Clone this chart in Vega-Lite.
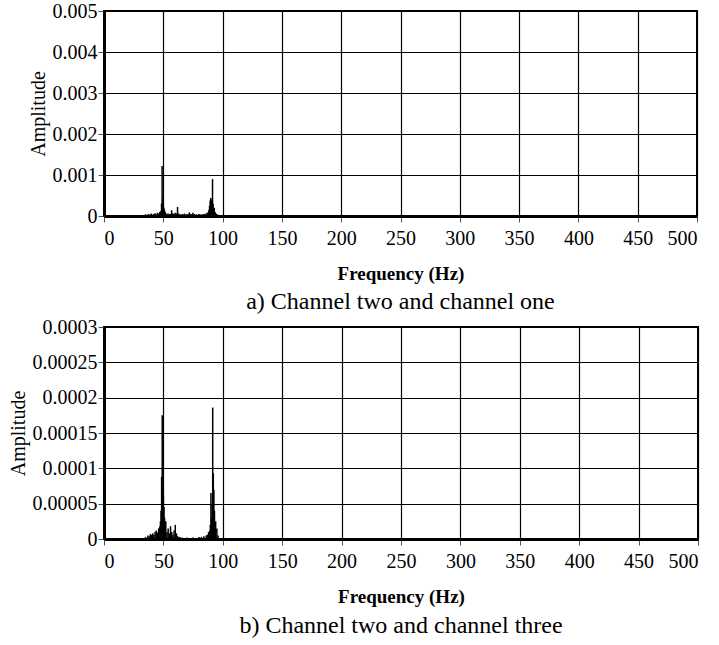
{
  "$schema": "https://vega.github.io/schema/vega-lite/v6.json",
  "padding": {"left": 7, "top": 0, "right": 10, "bottom": 0},
  "background": "white",
  "datasets": {
    "a": [
      {"f": 33, "amp": 0.00002}, {"f": 35, "amp": 0.00004}, {"f": 36, "amp": 0.00003}, {"f": 37.5, "amp": 0.00005},
      {"f": 39, "amp": 0.00004}, {"f": 40, "amp": 0.00006}, {"f": 41, "amp": 0.00003}, {"f": 42, "amp": 0.00005},
      {"f": 43, "amp": 0.00007}, {"f": 44, "amp": 0.00004}, {"f": 45, "amp": 0.00008}, {"f": 46, "amp": 0.00006},
      {"f": 47, "amp": 0.0001}, {"f": 47.5, "amp": 0.00008}, {"f": 48, "amp": 0.00012}, {"f": 48.5, "amp": 0.0003},
      {"f": 49, "amp": 0.00122}, {"f": 49.5, "amp": 0.00042}, {"f": 50, "amp": 0.00035}, {"f": 50.5, "amp": 0.0002},
      {"f": 51, "amp": 0.00015}, {"f": 51.5, "amp": 0.0001}, {"f": 52, "amp": 0.00008}, {"f": 53, "amp": 0.00005},
      {"f": 54, "amp": 0.00006}, {"f": 55, "amp": 0.00004}, {"f": 56, "amp": 0.00005}, {"f": 57, "amp": 0.00014},
      {"f": 58, "amp": 0.00007}, {"f": 59, "amp": 0.00005}, {"f": 60, "amp": 0.00008}, {"f": 61, "amp": 0.00006},
      {"f": 62, "amp": 0.00022}, {"f": 63, "amp": 0.00006}, {"f": 64, "amp": 0.00004}, {"f": 65, "amp": 0.00003},
      {"f": 66, "amp": 0.00005}, {"f": 67, "amp": 0.00004}, {"f": 68, "amp": 0.00006}, {"f": 69, "amp": 0.00003},
      {"f": 70, "amp": 0.00005}, {"f": 71, "amp": 0.00004}, {"f": 72, "amp": 0.00009}, {"f": 73, "amp": 0.00005},
      {"f": 74, "amp": 0.00004}, {"f": 75, "amp": 0.00008}, {"f": 76, "amp": 0.00005}, {"f": 77, "amp": 0.00003},
      {"f": 78, "amp": 0.00004}, {"f": 79, "amp": 0.00003}, {"f": 80, "amp": 0.00005}, {"f": 81, "amp": 0.00004},
      {"f": 82, "amp": 0.00003}, {"f": 83, "amp": 0.00004}, {"f": 84, "amp": 0.00005}, {"f": 85, "amp": 0.00004},
      {"f": 86, "amp": 0.00006}, {"f": 87, "amp": 0.00008}, {"f": 88, "amp": 0.0001}, {"f": 88.5, "amp": 0.00015},
      {"f": 89, "amp": 0.00025}, {"f": 89.5, "amp": 0.00038}, {"f": 90, "amp": 0.00044}, {"f": 90.5, "amp": 0.00035},
      {"f": 91, "amp": 0.0004}, {"f": 91.5, "amp": 0.0009}, {"f": 92, "amp": 0.0003}, {"f": 92.5, "amp": 0.00015},
      {"f": 93, "amp": 0.0002}, {"f": 93.5, "amp": 0.0001}, {"f": 94, "amp": 0.00008}, {"f": 95, "amp": 0.00005},
      {"f": 96, "amp": 0.00003}, {"f": 97, "amp": 0.00002}
    ],
    "b": [
      {"f": 35, "amp": 0.000003}, {"f": 37, "amp": 0.000005}, {"f": 38, "amp": 0.000004}, {"f": 39, "amp": 0.000007},
      {"f": 40, "amp": 0.000006}, {"f": 41, "amp": 0.000008}, {"f": 42, "amp": 0.000006}, {"f": 43, "amp": 0.00001},
      {"f": 44, "amp": 0.000012}, {"f": 45, "amp": 0.000009}, {"f": 46, "amp": 0.000015}, {"f": 47, "amp": 0.000018},
      {"f": 47.5, "amp": 0.000025}, {"f": 48, "amp": 0.00004}, {"f": 48.5, "amp": 0.000088}, {"f": 49, "amp": 0.000175},
      {"f": 49.5, "amp": 0.000065}, {"f": 50, "amp": 0.00006}, {"f": 50.5, "amp": 0.000045}, {"f": 51, "amp": 0.00003},
      {"f": 51.5, "amp": 0.00002}, {"f": 52, "amp": 0.000025}, {"f": 53, "amp": 0.00001}, {"f": 54, "amp": 0.000015},
      {"f": 55, "amp": 0.000008}, {"f": 56, "amp": 0.000018}, {"f": 57, "amp": 0.00001}, {"f": 58, "amp": 0.000006},
      {"f": 59, "amp": 0.000012}, {"f": 60, "amp": 0.00002}, {"f": 61, "amp": 0.000008}, {"f": 62, "amp": 0.000004},
      {"f": 63, "amp": 0.000003}, {"f": 64, "amp": 0.000003}, {"f": 66, "amp": 0.000002}, {"f": 70, "amp": 0.000002},
      {"f": 75, "amp": 0.000002}, {"f": 80, "amp": 0.000003}, {"f": 82, "amp": 0.000003}, {"f": 84, "amp": 0.000004},
      {"f": 86, "amp": 0.000005}, {"f": 87, "amp": 0.000006}, {"f": 88, "amp": 0.00001}, {"f": 89, "amp": 0.000012},
      {"f": 89.5, "amp": 0.00002}, {"f": 90, "amp": 0.000065}, {"f": 90.5, "amp": 0.00003}, {"f": 91, "amp": 0.00005},
      {"f": 91.5, "amp": 0.000186}, {"f": 92, "amp": 0.000093}, {"f": 92.5, "amp": 0.00007}, {"f": 93, "amp": 0.00004},
      {"f": 93.5, "amp": 0.00002}, {"f": 94, "amp": 0.000025}, {"f": 95, "amp": 0.000015}, {"f": 96, "amp": 0.000005}
    ]
  },
  "vconcat": [
    {
      "width": 593,
      "height": 205,
      "data": {"name": "a"},
      "title": {"text": "a) Channel two and channel one", "orient": "bottom", "anchor": "middle", "frame": "group", "fontSize": 24, "fontWeight": "normal", "color": "black", "offset": 7},
      "mark": {"type": "rule", "color": "black", "strokeWidth": 1.5},
      "encoding": {
        "x": {"field": "f", "type": "quantitative", "title": "Frequency (Hz)", "scale": {"domain": [0, 500], "nice": false}, "axis": {"values": [0, 50, 100, 150, 200, 250, 300, 350, 400, 450, 500]}},
        "y": {"field": "amp", "type": "quantitative", "title": "Amplitude", "scale": {"domain": [0, 0.005], "nice": false}, "axis": {"values": [0, 0.001, 0.002, 0.003, 0.004, 0.005], "format": ".3~f"}},
        "y2": {"datum": 0}
      }
    },
    {
      "width": 594,
      "height": 212,
      "data": {"name": "b"},
      "title": {"text": "b) Channel two and channel three", "orient": "bottom", "anchor": "middle", "frame": "group", "fontSize": 24, "fontWeight": "normal", "color": "black", "offset": 8},
      "mark": {"type": "rule", "color": "black", "strokeWidth": 1.5},
      "encoding": {
        "x": {"field": "f", "type": "quantitative", "title": "Frequency (Hz)", "scale": {"domain": [0, 500], "nice": false}, "axis": {"values": [0, 50, 100, 150, 200, 250, 300, 350, 400, 450, 500]}},
        "y": {"field": "amp", "type": "quantitative", "title": "Amplitude", "scale": {"domain": [0, 0.0003], "nice": false}, "axis": {"values": [0, 0.00005, 0.0001, 0.00015, 0.0002, 0.00025, 0.0003], "format": ".5~f"}},
        "y2": {"datum": 0}
      }
    }
  ],
  "spacing": 1,
  "config": {
    "font": "Times New Roman, Liberation Serif, serif",
    "view": {"stroke": "black", "strokeWidth": 2},
    "title": {"font": "Times New Roman, Liberation Serif, serif"},
    "axis": {
      "grid": true, "gridColor": "black", "gridOpacity": 1, "gridWidth": 1.2,
      "domainColor": "black", "domainWidth": 3,
      "tickColor": "#555", "tickSize": 6, "tickWidth": 1,
      "labelColor": "black", "labelFontSize": 20, "labelFont": "Times New Roman, Liberation Serif, serif", "labelPadding": 1,
      "titleColor": "black", "titleFontSize": 20, "titleFontWeight": "normal", "titleFont": "Times New Roman, Liberation Serif, serif", "titlePadding": 4
    },
    "axisX": {"labelPadding": 6, "titlePadding": 16, "titleFontSize": 19, "titleFontWeight": "bold"}
  }
}
